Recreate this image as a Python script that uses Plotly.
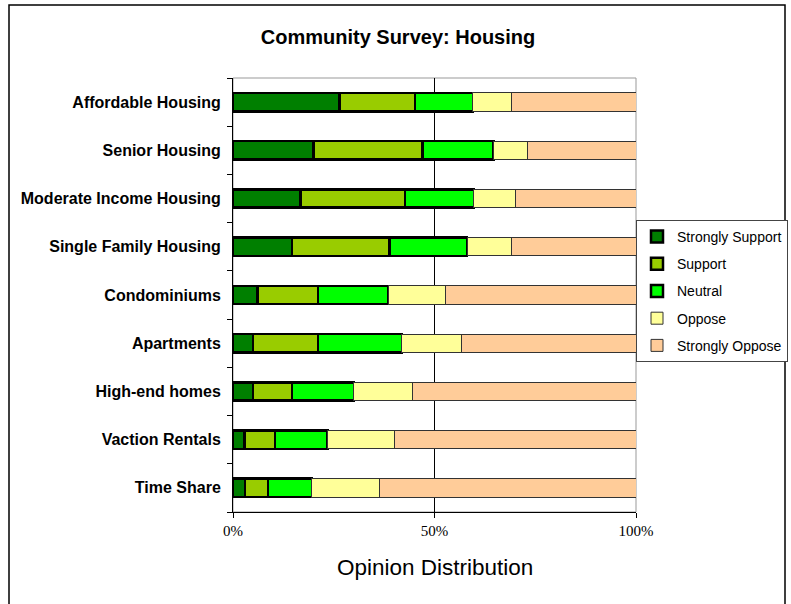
import plotly.graph_objects as go

categories = ["Affordable Housing", "Senior Housing", "Moderate Income Housing",
              "Single Family Housing", "Condominiums", "Apartments",
              "High-end homes", "Vaction Rentals", "Time Share"]

strongly_support = [26.4, 20.0, 16.7, 14.6, 6.1, 5.0, 5.0, 2.8, 3.0]
support          = [18.8, 27.0, 26.0, 24.2, 15.0, 16.1, 9.6, 7.6, 5.7]
neutral          = [14.3, 17.7, 17.1, 19.3, 17.4, 20.8, 15.4, 13.1, 10.9]
oppose           = [9.5, 8.3, 10.4, 11.0, 14.3, 14.7, 14.5, 16.5, 16.8]
strongly_oppose  = [31.0, 27.0, 29.8, 30.9, 47.2, 43.4, 55.5, 60.0, 63.6]

series_names = ["Strongly Support", "Support", "Neutral", "Oppose", "Strongly Oppose"]
series_values = [strongly_support, support, neutral, oppose, strongly_oppose]
colors = ["#007F00", "#99CC00", "#00FF00", "#FFFF99", "#FFCC99"]
line_widths = [2.5, 2.5, 2.5, 1, 1]
line_colors = ["#000000", "#000000", "#000000", "#333333", "#333333"]

x_tick_vals = [0, 50, 100]
x_tick_text = ["0%", "50%", "100%"]

W, H = 791, 604
L, R, T, B = 233, 636, 78, 512
pw, ph = R - L, B - T

fig = go.Figure()
for name, vals, c, lw, lc in zip(series_names, series_values, colors, line_widths, line_colors):
    fig.add_trace(go.Bar(
        y=categories, x=vals, name=name, orientation="h",
        marker=dict(color=c, line=dict(color=lc, width=lw)),
        legendgroup=name,
    ))

def px_x(p):
    return (p - L) / pw

def px_y(p):
    return (B - p) / ph

fig.update_layout(
    width=W, height=H,
    margin=dict(l=L, r=W - R, t=T, b=H - B, pad=0, autoexpand=False),
    paper_bgcolor="white", plot_bgcolor="white",
    barmode="stack", bargap=0.62,
    font=dict(family="Liberation Sans, Arial", color="black"),
    title=dict(text="<b>Community Survey: Housing</b>", x=398 / W, xanchor="center",
               y=1 - 37 / H, yanchor="middle",
               font=dict(size=20, family="Liberation Sans, Arial", color="black")),
    legend=dict(x=px_x(636), y=px_y(220), xanchor="left", yanchor="top",
                traceorder="grouped", tracegroupgap=6,
                bordercolor="#444444", borderwidth=1, bgcolor="white",
                font=dict(size=14, family="Liberation Sans, Arial", color="black"),
                itemwidth=30),
    xaxis=dict(range=[0, 100], tickvals=x_tick_vals, ticktext=x_tick_text,
               showgrid=False, zeroline=False,
               showline=True, linecolor="black", linewidth=1,
               ticks="outside", ticklen=5, tickcolor="black",
               tickfont=dict(family="Liberation Serif, Times New Roman", size=15, color="black")),
    yaxis=dict(autorange="reversed", showgrid=False, zeroline=False,
               showline=True, linecolor="black", linewidth=1,
               ticks="outside", ticklen=5, tickcolor="black", tickson="boundaries",
               ticklabelstandoff=8,
               tickvals=categories, ticktext=["<b>%s</b>" % c for c in categories],
               tickfont=dict(family="Liberation Sans, Arial", size=16, color="black")),
    shapes=[
        dict(type="rect", xref="paper", yref="paper", x0=0, x1=1, y0=0, y1=1,
             line=dict(color="#999999", width=1), layer="below"),
        dict(type="line", xref="x", yref="paper", x0=50, x1=50, y0=0, y1=1,
             line=dict(color="black", width=1), layer="below"),
        dict(type="rect", xref="paper", yref="paper",
             x0=px_x(9), x1=px_x(785), y0=px_y(612), y1=px_y(5),
             line=dict(color="black", width=1.5)),
    ],
    annotations=[
        dict(text="Opinion Distribution", xref="paper", yref="paper",
             x=0.5, y=px_y(567), xanchor="center", yanchor="middle", showarrow=False,
             font=dict(size=22.5, family="Liberation Sans, Arial", color="black")),
    ],
)

fig.write_html("out.html", config={"displayModeBar": False},
               post_script="document.body.style.margin='0px';")
